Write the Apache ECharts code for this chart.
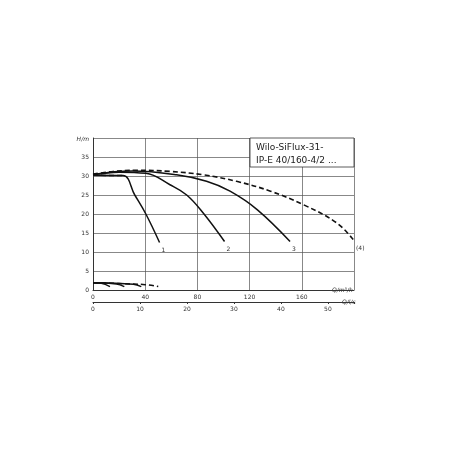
<!DOCTYPE html><html><head><meta charset="utf-8"><script src="https://cdn.jsdelivr.net/npm/echarts@6/dist/echarts.min.js"></script></head><body style="margin:0"><div id="c" style="width:450px;height:450px"></div><script>
const curve1=[[0,30.2],[23,30.1],[32,25],[40.5,20],[51,12.5]];
const curve2=[[0,30.3],[20,31],[40.5,30.7],[59,27.7],[71.8,25],[84.6,20.2],[100.8,12.75]];
const curve3=[[0,30.4],[30,31.3],[64,30.3],[87,28.6],[105,26],[126,21.1],[151,12.75]];
const curve4=[[0,30.5],[15.4,31.2],[33,31.5],[59,31.2],[84.6,30.3],[110,28.6],[136,26],[161.5,22.4],[187,17.6],[200,13]];
const minDash=[[0,30.2],[23,30.1]];
const lowDash=[[0,1.9],[20,1.7],[40,1.4],[50,0.9]];
const low1=[[0,1.9],[6.4,1.75],[13,0.9]];
const low2=[[0,1.9],[18,1.6],[24,0.9]];
const low3=[[0,1.9],[31,1.5],[37,0.9]];
const labels=['1','2','3','(4)'];
const f='DejaVu Sans';
function s(d,dash,lab,w){return {type:'line',data:d,showSymbol:false,smooth:0.4,lineStyle:{color:'#111',width:w||1.5,type:dash?[5,3]:'solid'},
 endLabel:lab?{show:true,formatter:lab,fontSize:6,fontFamily:f,color:'#333',offset:[-6,8]}:{show:false},silent:true};}
echarts.init(document.getElementById('c')).setOption({animation:false,
grid:{left:93,right:96,top:138,bottom:160},
xAxis:[{type:'value',min:0,max:200,interval:40,position:'bottom',axisLine:{lineStyle:{color:'#333'}},axisTick:{show:false},
 axisLabel:{fontSize:6,fontFamily:f,color:'#333',margin:4,formatter:v=>v===200?'':v},splitLine:{lineStyle:{color:'#555',width:0.7}},
 name:'Q/m³/h',nameLocation:'end',nameGap:-22,nameTextStyle:{fontSize:6,fontStyle:'italic',fontFamily:f,color:'#333',padding:[22,0,0,0]}},
 {type:'value',min:0,max:55.556,interval:10,position:'bottom',offset:12,axisLine:{show:true,lineStyle:{color:'#333'}},axisTick:{show:true,length:2},
 axisLabel:{fontSize:6,fontFamily:f,color:'#333',margin:4,formatter:v=>v>55?'':v},splitLine:{show:false},
 name:'Q/l/s',nameLocation:'end',nameGap:-12,nameTextStyle:{fontSize:6,fontStyle:'italic',fontFamily:f,color:'#333',padding:[20,0,0,0]}}],
yAxis:{type:'value',min:0,max:40,interval:5,axisLine:{show:true,lineStyle:{color:'#333'}},axisTick:{show:false},
 axisLabel:{fontSize:6,fontFamily:f,color:'#333',margin:4,formatter:v=>v===40?'':v},splitLine:{lineStyle:{color:'#555',width:0.7}},
 name:'H/m',nameLocation:'end',nameGap:-4,nameTextStyle:{fontSize:6,fontStyle:'italic',fontFamily:f,color:'#333',align:'right',padding:[0,4,0,0]}},
graphic:[{type:'rect',shape:{x:250,y:138,width:104,height:29},style:{fill:'#fff',stroke:'#333',lineWidth:0.8},z:100},
 {type:'text',left:256,top:141,style:{text:'Wilo-SiFlux-31-\nIP-E 40/160-4/2 ...',fontSize:9,lineHeight:13,fontFamily:f,fill:'#222'},z:101}],
series:[s(curve1,false,labels[0]),s(curve2,false,labels[1]),s(curve3,false,labels[2]),s(curve4,true,labels[3],1.6),s(minDash,true),
 s(lowDash,true),s(low1,false),s(low2,false),s(low3,false)]});
</script></body></html>
